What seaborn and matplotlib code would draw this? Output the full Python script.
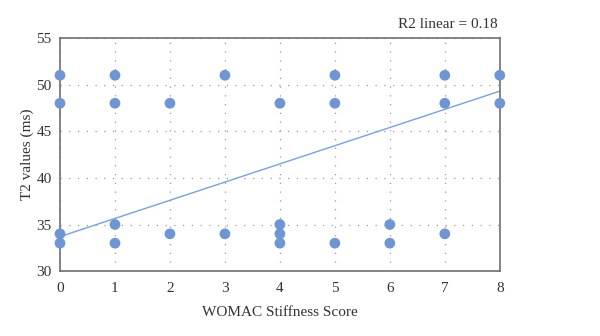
import matplotlib
matplotlib.use("Agg")
import matplotlib.pyplot as plt
import seaborn as sns
import pandas as pd

# Data
womac_score = [0, 0, 0, 0, 1, 1, 1, 1, 2, 2, 3, 3, 4, 4, 4, 4, 5, 5, 5, 6, 6, 7, 7, 7, 8, 8]
t2_values = [51, 48, 34, 33, 51, 48, 35, 33, 48, 34, 51, 34, 48, 35, 34, 33, 51, 48, 33, 35, 33, 51, 48, 34, 51, 48]
fit_x = [0, 8]
fit_y = [33.7, 49.3]
x_ticks = [0, 1, 2, 3, 4, 5, 6, 7, 8]
y_ticks = [30, 35, 40, 45, 50, 55]
r2_label = "R2 linear = 0.18"

sns.set_theme(style="white")
plt.rcParams["font.family"] = ["Liberation Serif", "DejaVu Serif"]

df = pd.DataFrame({"x": womac_score, "y": t2_values})
fit = pd.DataFrame({"x": fit_x, "y": fit_y})

fig = plt.figure(figsize=(6, 3.36), dpi=100)
ax = fig.add_axes([0.1, 0.193, 0.733, 0.694])

sns.lineplot(data=fit, x="x", y="y", ax=ax, color="#7aa0de", linewidth=1.0, zorder=2)
sns.scatterplot(data=df, x="x", y="y", ax=ax, color="#6f95d3", s=60, edgecolor="none", zorder=3, clip_on=False)

ax.set_xlim(0, 8)
ax.set_ylim(30, 55)
ax.set_xticks(x_ticks)
ax.set_yticks(y_ticks)
ax.grid(True, linestyle=(0, (1, 6)), color="#999999", linewidth=0.9)
ax.set_axisbelow(True)
for s in ax.spines.values():
    s.set_color("#707070")
    s.set_linewidth(1.2)
ax.tick_params(axis="x", length=0, labelsize=11, colors="#333333", pad=8)
ax.tick_params(axis="y", length=0, labelsize=11, colors="#333333", pad=6)
ax.set_xlabel("WOMAC Stiffness Score", fontsize=11, color="#333333", labelpad=8)
ax.set_ylabel("T2 values (ms)", fontsize=11, color="#333333", labelpad=2)
ax.text(0.995, 1.03, r2_label, transform=ax.transAxes, ha="right", va="bottom", fontsize=11, color="#333333")

fig.savefig("out.png", dpi=100)
